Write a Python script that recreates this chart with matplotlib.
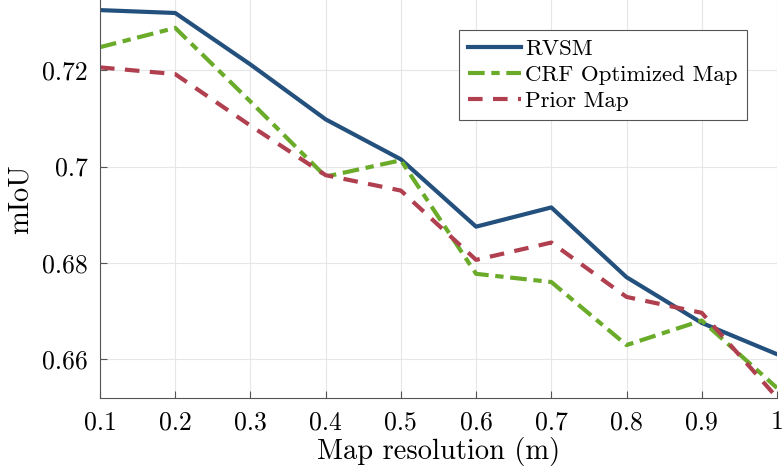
import numpy as np
import matplotlib
matplotlib.use("Agg")
from matplotlib import pyplot as plt
from matplotlib.ticker import FuncFormatter

# map resolution (m)
resolution = [0.1, 0.2, 0.3, 0.4, 0.5, 0.6, 0.7, 0.8, 0.9, 1.0]
rvsm = [0.7325, 0.7319, 0.7212, 0.7098, 0.7015, 0.6875, 0.6915, 0.6770, 0.6675, 0.6610]
crf_map = [0.7248, 0.7288, 0.7135, 0.6979, 0.7013, 0.6777, 0.6760, 0.6629, 0.6680, 0.6540]
prior_map = [0.7206, 0.7192, 0.7085, 0.6982, 0.6950, 0.6806, 0.6842, 0.6729, 0.6696, 0.6520]

plt.rcParams['font.family'] = 'cmr10'
plt.rcParams['mathtext.fontset'] = 'cm'
plt.rcParams['axes.formatter.use_mathtext'] = True

fig = plt.figure(figsize=(7.83, 4.69), dpi=100)
ax = fig.add_axes([0.1277, 0.1514, 0.8646, 0.8486])

ax.plot(resolution, rvsm, color='#23507D', lw=3, label='RVSM')
ax.plot(resolution, crf_map, color='#6AAB2A', lw=3, dashes=(4, 1.6, 2, 1.6), label='CRF Optimized Map')
ax.plot(resolution, prior_map, color='#B03F4F', lw=3, dashes=(3.5, 2.5), label='Prior Map')

ax.set_xlim(0.1, 1.0)
ax.set_ylim(0.6519, 0.7346)
ax.set_xticks(resolution)
ax.set_yticks([0.66, 0.68, 0.70, 0.72])
fmt = FuncFormatter(lambda v, p: '%g' % round(v, 4))
ax.xaxis.set_major_formatter(fmt)
ax.yaxis.set_major_formatter(fmt)

ax.grid(True, color='#e6e6e6', lw=0.8)
ax.set_axisbelow(True)
for s in ['top', 'right']:
    ax.spines[s].set_visible(False)
for s in ['left', 'bottom']:
    ax.spines[s].set_color('#555555')
    ax.spines[s].set_linewidth(0.8)
ax.tick_params(direction='in', length=5, color='#555555', labelsize=18.5, pad=9)

ax.set_xlabel('Map resolution (m)', fontsize=20.5, labelpad=2)
ax.set_ylabel('mIoU', fontsize=20.5, labelpad=6)

leg = ax.legend(loc='upper right', bbox_to_anchor=(747 / 783, 1 - 30 / 469),
                bbox_transform=fig.transFigure, fontsize=16.5, frameon=True, fancybox=False,
                framealpha=1, edgecolor='#555555', handlelength=2.3, handletextpad=0.2,
                borderpad=0.4, labelspacing=0.25, borderaxespad=0)
leg.get_frame().set_linewidth(0.8)

fig.savefig('out.png', dpi=100)
